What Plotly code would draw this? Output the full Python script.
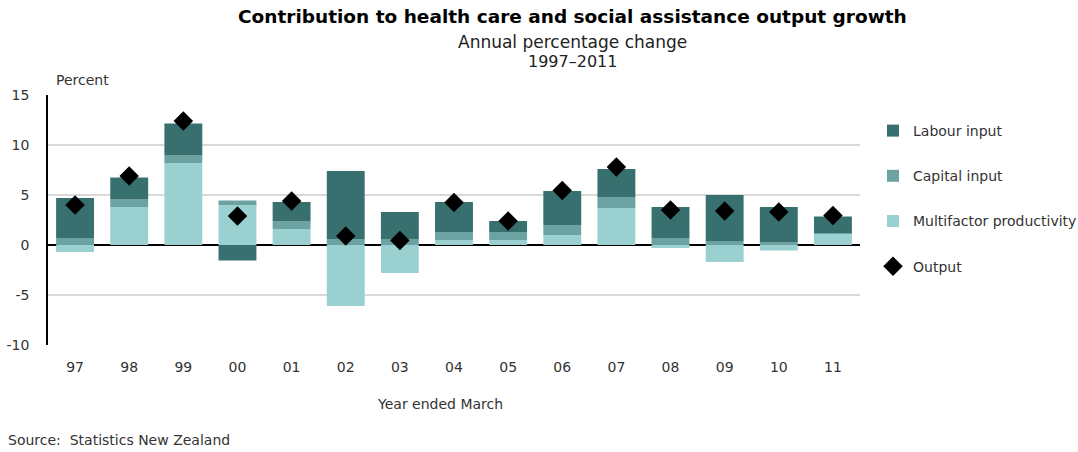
import plotly.graph_objects as go

years = ["97", "98", "99", "00", "01", "02", "03", "04", "05", "06", "07", "08", "09", "10", "11"]
labour = [4.0, 2.2, 3.2, -1.55, 1.95, 6.8, 2.7, 3.0, 1.1, 3.4, 2.8, 3.1, 4.6, 3.55, 1.65]
capital = [0.7, 0.75, 0.75, 0.45, 0.75, 0.6, 0.6, 0.8, 0.8, 1.0, 1.1, 0.7, 0.4, 0.25, 0.05]
multifactor = [-0.7, 3.8, 8.2, 4.0, 1.6, -6.1, -2.8, 0.5, 0.5, 1.0, 3.7, -0.3, -1.7, -0.55, 1.15]
output = [4.0, 6.9, 12.4, 2.9, 4.4, 0.9, 0.45, 4.25, 2.4, 5.45, 7.8, 3.5, 3.4, 3.3, 2.95]

y_ticks = [15, 10, 5, 0, -5, -10]
y_tick_labels = ["15", "10", "5", "0", "-5", "-10"]

C_LABOUR = "#387070"
C_CAPITAL = "#6ca2a2"
C_MFP = "#9bd0d0"
FONT = "DejaVu Sans, Liberation Sans, sans-serif"

# Page layout in pixels
W, H = 1078, 452
ML, MR, MT, MB = 48, 218, 95, 107
PW, PH = W - ML - MR, H - MT - MB

fig = go.Figure()
fig.add_trace(go.Bar(x=years, y=multifactor, name="Multifactor productivity",
                     marker_color=C_MFP, marker_line_width=0,
                     legendgroup="c", legendrank=3))
fig.add_trace(go.Bar(x=years, y=capital, name="Capital input",
                     marker_color=C_CAPITAL, marker_line_width=0,
                     legendgroup="b", legendrank=2))
fig.add_trace(go.Bar(x=years, y=labour, name="Labour input",
                     marker_color=C_LABOUR, marker_line_width=0,
                     legendgroup="a", legendrank=1))
fig.add_trace(go.Scatter(x=years, y=output, name="Output", mode="markers",
                         marker=dict(symbol="diamond", size=15, color="#000000"),
                         legendgroup="d", legendrank=4))

fig.update_layout(
    width=W, height=H,
    barmode="relative", bargap=0.3,
    paper_bgcolor="white", plot_bgcolor="white",
    margin=dict(l=ML, r=MR, t=MT, b=MB, autoexpand=False),
    font=dict(family=FONT, size=14, color="#333333"),
    showlegend=True,
    legend=dict(x=(873 - ML) / PW, y=(H - MB - 115) / PH, xanchor="left", yanchor="top",
                tracegroupgap=24, itemwidth=30,
                font=dict(family=FONT, size=14, color="#333333"),
                bgcolor="rgba(0,0,0,0)"),
    xaxis=dict(range=[-0.5, len(years) - 0.5], showgrid=False, showline=False,
               ticks="", tickfont=dict(size=14), ticklabelstandoff=12),
    yaxis=dict(range=[-10, 15], tickvals=y_ticks, ticktext=y_tick_labels,
               showgrid=True, gridcolor="#d9d9d9", gridwidth=1.5,
               zeroline=True, zerolinecolor="#000000", zerolinewidth=1.5,
               showline=True, linecolor="#000000", linewidth=1.5,
               ticks="", tickfont=dict(size=14), ticklabelstandoff=14),
)

# Free text placed by page pixel position (x, y = centre unless anchored left)
texts = [
    ("<b>Contribution to health care and social assistance output growth</b>",
     572, 17, "center", 18.5, "#000000"),
    ("Annual percentage change", 572, 42, "center", 17, "#222222"),
    ("1997\u20132011", 572, 61, "center", 16, "#222222"),
    ("Percent", 54, 80, "left", 14, "#333333"),
    ("Year ended March", 440, 404, "center", 14, "#333333"),
    ("Source:  Statistics New Zealand", 6, 440, "left", 14, "#333333"),
]
for text, px, py, anchor, size, color in texts:
    fig.add_annotation(text=text, xref="paper", yref="paper",
                       x=(px - ML) / PW, y=(H - MB - py) / PH,
                       xanchor=anchor, yanchor="middle", showarrow=False,
                       font=dict(family=FONT, size=size, color=color))

fig.write_html("out.html")
